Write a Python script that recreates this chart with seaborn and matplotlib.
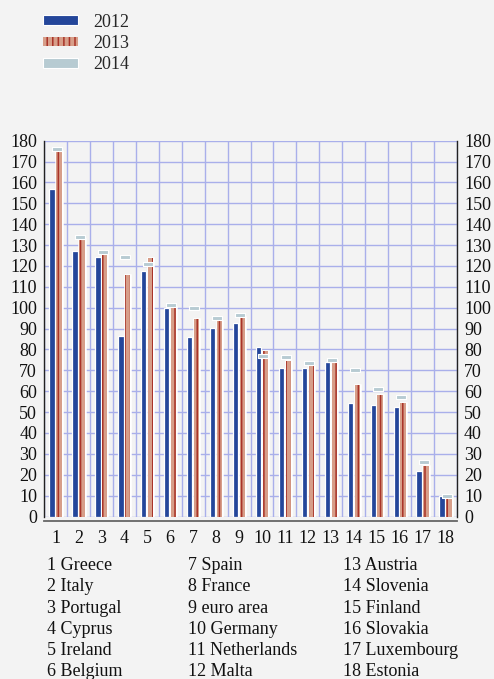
import numpy as np
import pandas as pd
import matplotlib
matplotlib.use("Agg")
import matplotlib.pyplot as plt
import matplotlib.patheffects as pe
from matplotlib.patches import Patch
from matplotlib.path import Path
import seaborn as sns

# Data (general government debt, % of GDP)
countries = ["Greece", "Italy", "Portugal", "Cyprus", "Ireland", "Belgium",
             "Spain", "France", "euro area", "Germany", "Netherlands", "Malta",
             "Austria", "Slovenia", "Finland", "Slovakia", "Luxembourg", "Estonia"]
debt_2012 = [156.9, 127.0, 124.1, 86.6, 117.4, 99.8, 86.0, 90.2, 92.7,
             81.0, 71.3, 71.3, 74.0, 54.4, 53.6, 52.4, 21.7, 9.8]
debt_2013 = [175.1, 133.0, 126.0, 115.8, 124.0, 100.2, 94.8, 93.5, 95.5,
             79.4, 74.5, 72.2, 74.5, 63.2, 58.0, 54.4, 24.4, 9.8]
debt_2014 = [176.2, 134.0, 126.8, 124.3, 121.1, 101.4, 100.0, 95.2, 96.4,
             77.0, 76.4, 73.5, 74.8, 70.3, 61.1, 57.4, 26.0, 9.9]
years = ["2012", "2013", "2014"]
yticks = list(range(0, 181, 10))

COL_2012 = "#24469A"
COL_2013 = "#D79E89"
COL_2013_LINE = "#A93328"
COL_2014 = "#B7CBD2"
GRID = "#A9AFEA"
BG = "#F3F3F3"

sns.set_theme(style="white")
plt.rcParams["font.family"] = ["Liberation Serif", "DejaVu Serif"]
plt.rcParams["hatch.linewidth"] = 1.1
plt.rcParams["hatch.color"] = COL_2013_LINE

labels = [str(i + 1) for i in range(len(countries))]
df = pd.DataFrame({
    "num": labels * 2,
    "value": debt_2012 + debt_2013,
    "year": [years[0]] * len(labels) + [years[1]] * len(labels),
})

fig = plt.figure(figsize=(4.94, 6.79), dpi=100, facecolor=BG)
ax = fig.add_axes([44 / 494, 1 - 516.5 / 679, (457 - 44) / 494, (516.5 - 140.7) / 679])
ax.set_facecolor(BG)

sns.barplot(data=df, x="num", y="value", hue="year", order=labels,
            hue_order=years[:2], palette=[COL_2012, COL_2013],
            width=0.6, gap=0.22, errorbar=None, legend=False,
            saturation=1, ax=ax, zorder=2)

# white outline on the 2012 bars, hatched stripe on the 2013 bars
for p in ax.containers[0]:
    p.set_edgecolor("white")
    p.set_linewidth(0.9)
for p in ax.containers[1]:
    p.set_edgecolor(COL_2013_LINE)
    p.set_linewidth(0)
    p.set_hatch("|||")
    p.set_path_effects([pe.Stroke(linewidth=1.8, foreground="white"), pe.Normal()])

# 2014 forecast as short dashes
dash = Path([(-0.5, -0.16), (0.5, -0.16), (0.5, 0.16), (-0.5, 0.16), (-0.5, -0.16)],
            [Path.MOVETO, Path.LINETO, Path.LINETO, Path.LINETO, Path.CLOSEPOLY])
xpos = np.arange(len(countries)) + 0.05
sns.scatterplot(x=xpos, y=debt_2014, marker=dash, s=60, color=COL_2014,
                edgecolor="white", linewidth=0.8, zorder=4, ax=ax, legend=False)

ax.set_xlim(-0.5, len(countries) - 0.5)
ax.set_ylim(0, 180)
ax.set_yticks(yticks)
ax.set_xlabel("")
ax.set_ylabel("")

# grid: horizontal every 10, vertical between categories
ax.set_xticks(np.arange(-0.5, len(countries), 1), minor=True)
ax.grid(True, which="major", axis="y", color=GRID, lw=1.0, zorder=0)
ax.grid(True, which="minor", axis="x", color=GRID, lw=1.0, zorder=0)
ax.set_axisbelow(True)

for side in ["left", "right"]:
    ax.spines[side].set_visible(True)
    ax.spines[side].set_color("#222222")
    ax.spines[side].set_linewidth(1.0)
ax.spines["top"].set_visible(False)
ax.spines["bottom"].set_position(("outward", 3))
ax.spines["bottom"].set_color("#666666")
ax.spines["bottom"].set_linewidth(1.3)

ax.tick_params(axis="y", which="both", left=False, right=False, length=0,
               labelleft=True, labelright=True, labelsize=13, pad=5, colors="#111111")
ax.tick_params(axis="x", which="major", length=0, labelsize=13, pad=7, colors="#111111")
ax.tick_params(axis="x", which="minor", length=5, width=1.5, direction="out", color="#111111")

# legend
handles = [
    Patch(facecolor=COL_2012, edgecolor="white", linewidth=0.8),
    Patch(facecolor=COL_2013, edgecolor=COL_2013_LINE, linewidth=0, hatch="|||"),
    Patch(facecolor=COL_2014, edgecolor="white", linewidth=0.8),
]
fig.legend(handles, years, loc="upper left", bbox_to_anchor=(42.7 / 494, 0.980),
           frameon=False, fontsize=13, handlelength=1.95, handleheight=0.45,
           handletextpad=0.85, labelspacing=0.24, borderpad=0, borderaxespad=0)

# country key below the chart
col_x = [47, 188, 343]
for i, name in enumerate(countries):
    col, row = divmod(i, 6)
    fig.text(col_x[col] / 494, 1 - (565.5 + 21.3 * row) / 679, f"{i + 1} {name}",
             fontsize=13, va="center", ha="left", color="#111111")

fig.savefig("out.png", dpi=100, facecolor=BG)
